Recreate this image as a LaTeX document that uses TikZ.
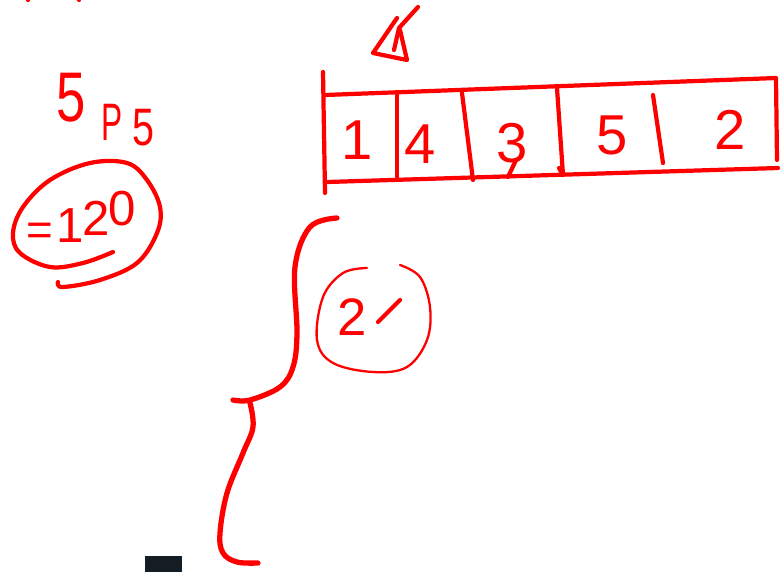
\documentclass[tikz,border=0pt]{standalone}
\usepackage{fontspec}
\setmainfont{Liberation Sans}
\definecolor{inkred}{HTML}{FF0000}
\definecolor{barblack}{HTML}{141C24}
\tikzset{
  ink/.style={draw=inkred, line width=2.4pt, line cap=round, line join=round},
  thinink/.style={ink, line width=1.3pt},
  boldink/.style={ink, line width=3pt},
  scribble/.style={text=inkred, inner sep=0pt},
  digit/.style={scribble, font=\fontsize{32}{32}\selectfont},
}

\begin{document}
\begin{tikzpicture}[x=0.02cm, y=-0.02cm]
  \useasboundingbox (0,0) rectangle (781,572);

  % stray marks cut off at the top edge
  \draw[ink] (27,-3) -- (28,0);
  \draw[ink] (78,-3) -- (79,0);

  % 5P5 = 120
  \node[scribble, font=\fontsize{40}{40}\selectfont, xscale=0.75] (five) at (71,98) {5};
  \node[scribble, font=\fontsize{30}{30}\selectfont, xscale=0.6] (perm) at (112,122) {P};
  \node[scribble, font=\fontsize{30}{30}\selectfont, xscale=0.75] (fiveb) at (143,128) {5};
  \node[scribble, font=\fontsize{26}{26}\selectfont] (equals) at (40,234) {=};
  \foreach \d/\x/\y [count=\i] in {1/70/226, 2/96/218, 0/122/209}
    \node[scribble, font=\fontsize{28}{28}\selectfont] (result\i) at (\x,\y) {\d};
  \draw[ink] plot[smooth, tension=0.6] coordinates {(113,252) (83,263) (50,267) (20,253) (13,233)
    (23,207) (50,180) (90,163) (127,163) (147,180) (160,207) (157,233) (137,263)
    (100,280) (63,287) (58,282)};

  % mark above the first cell
  \draw[ink] (397,18) -- (373,53) -- (407,60) -- (400,30);
  \draw[ink] (418,7) -- (399,28) -- (394,50);

  % the array
  \draw[ink] (323,72) -- (325,193);
  \draw[ink] (325,95) -- (776,78) -- (777,160);
  \draw[ink] (327,182) -- (778,168);
  \draw[ink] (397,95) -- (397,177);
  \draw[ink] (462,93) -- (473,180);
  \draw[ink] (557,88) -- (563,175) -- (559,168);
  \draw[ink] (653,95) -- (663,163);
  \foreach \d/\x/\y [count=\i] in {1/357/140, 4/420/144, 3/512/143, 5/612/135, 2/730/130}
    \node[digit] (cell\i) at (\x,\y) {\d};
  \draw[ink] (516,160) -- (508,177);

  % circled 2'
  \node[scribble, font=\fontsize{30}{30}\selectfont] (two) at (352,317) {2};
  \draw[ink] (378,322) -- (400,300);
  \draw[thinink] plot[smooth, tension=0.6] coordinates {(367,268) (343,273) (323,297) (317,340)
    (333,363) (373,372) (407,367) (427,340) (430,307) (420,277) (400,265)};

  % brace
  \draw[boldink] plot[smooth, tension=0.6] coordinates {(337,218) (310,227) (295,267) (297,333)
    (293,367) (280,387) (250,400) (233,400)};
  \draw[boldink] plot[smooth, tension=0.6] coordinates {(250,403) (253,427) (243,453) (227,493)
    (220,533) (223,553) (237,562) (258,563)};

  % dark block at the bottom
  \fill[barblack] (145,556) rectangle (182,572);
\end{tikzpicture}
\end{document}
